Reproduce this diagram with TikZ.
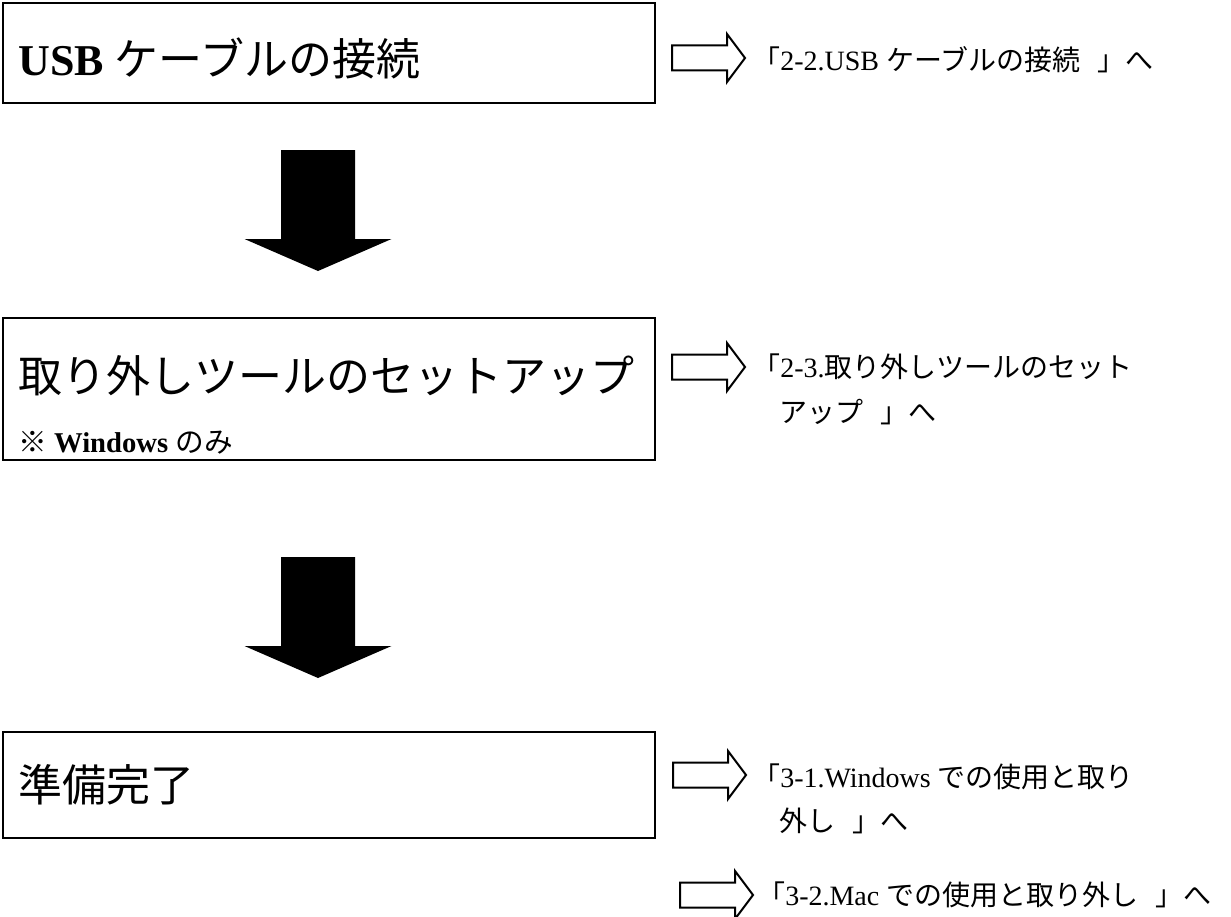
\documentclass[tikz,border=0pt]{standalone}
\usepackage{fontspec}
\setmainfont{Liberation Serif}
\newfontfamily\jp{Noto Sans CJK JP}
\usetikzlibrary{positioning}

\tikzset{
  box/.style={draw, line width=1.2pt, minimum width=489pt},
  big/.style={anchor=west, inner sep=0, font=\fontsize{33}{40}\selectfont},
  note/.style={anchor=west, inner sep=0, font=\fontsize{21.5}{26}\selectfont},
  ref/.style={anchor=west, inner sep=0, font=\fontsize{21}{25}\selectfont},
  downarrow/.pic={\fill (-37,0) -- (37,0) -- (37,89) -- (73.5,89) -- (0,121) -- (-73.5,89) -- (-37,89) -- cycle;},
  goarrow/.pic={\draw[line width=1.5pt] (0,-12.5) -- (55,-12.5) -- (55,-24) -- (73,0) -- (55,24) -- (55,12.5) -- (0,12.5) -- cycle;}
}

\begin{document}
\begin{tikzpicture}[x=0.75pt, y=-0.75pt]
        \useasboundingbox (0,0) rectangle (1231,917);

        % the three steps
        \node[box, minimum height=75pt] (usb) at (329,53) {};
        \node[big] (usbtxt) at (18,58) {\textbf{USB} {\jp ケーブルの接続}};
        \node[box, minimum height=106.5pt] (tool) at (329,389) {};
        \node[big] (tooltxt) at (18,376) {\jp 取り外しツールのセットアップ};
        \node[note] (toolnote) at (18,443) {{\jp\bfseries ※} \textbf{Windows} {\jp のみ}};
        \node[box, minimum height=79.5pt] (ready) at (329,785) {};
        \node[big] (readytxt) at (18,785) {\jp 準備完了};

        \pic at (318,150) {downarrow};
        \pic at (318,557) {downarrow};

        % references
        \pic at (672,58) {goarrow};
        \node[ref] (ref1) at (752,60) {{\jp 「}2-2.USB {\jp ケーブルの接続\hspace{0.6em}」へ}};
        \pic at (672,367) {goarrow};
        \node[ref] (ref2a) at (752,367) {{\jp 「}2-3.{\jp 取り外しツールのセット}};
        \node[ref] (ref2b) at (779,412) {\jp アップ\hspace{0.6em}」へ};
        \pic at (673,775) {goarrow};
        \node[ref] (ref3a) at (752,777) {{\jp 「}3-1.Windows {\jp での使用と取り}};
        \node[ref] (ref3b) at (779,821) {\jp 外し\hspace{0.6em}」へ};
        \pic at (680,895) {goarrow};
        \node[ref] (ref4) at (757,895) {{\jp 「}3-2.Mac {\jp での使用と取り外し\hspace{0.6em}」へ}};

\end{tikzpicture}
\end{document}
